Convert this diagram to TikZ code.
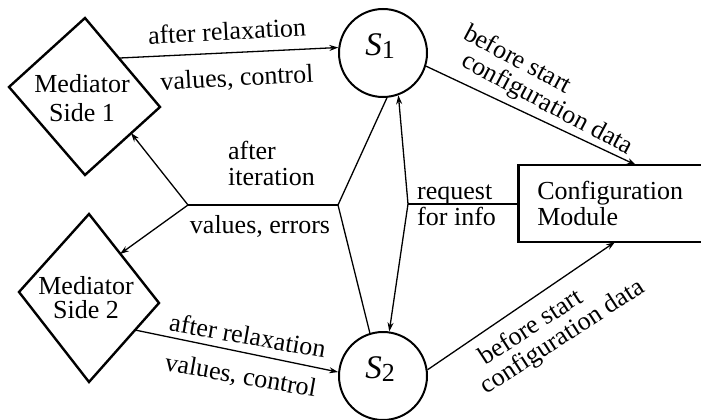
\documentclass[tikz,border=0pt]{standalone}
\usepackage{fontspec}
\setmainfont{Liberation Serif}
\usetikzlibrary{arrows.meta}
\begin{document}
\begin{tikzpicture}[x=1pt,y=-1pt,
  every node/.style={font=\fontsize{26}{26}\selectfont, inner sep=0pt},
  conn/.style={line width=1.3pt},
  tip/.tip={Stealth[length=9pt,width=6pt]},
  arr/.style={conn,-tip},
  mediator/.style={line width=2.4pt, line join=miter},
  proc/.style={circle, draw, line width=2pt, minimum size=88pt},
  module/.style={draw, line width=2.6pt, minimum height=77pt,
    text width=174pt, inner xsep=19pt, align=left, anchor=west},
  lbl/.style={align=left}]

\fill[white] (0,0) rectangle (701,420);
\clip (0,0) rectangle (701,420);

% mediator diamonds
\coordinate (m1t) at (85,18);  \coordinate (m1r) at (160,107);
\coordinate (m1b) at (85,175); \coordinate (m1l) at (9,87);
\draw[mediator] (m1t) -- (m1r) -- (m1b) -- (m1l) -- cycle;
\node[align=center, font=\fontsize{26}{29}\selectfont] (med1) at (82,98) {Mediator\\Side 1};

\coordinate (m2t) at (89,214);  \coordinate (m2r) at (159,303);
\coordinate (m2b) at (89,382);  \coordinate (m2l) at (19,292);
\draw[mediator] (m2t) -- (m2r) -- (m2b) -- (m2l) -- cycle;
\node[align=center, font=\fontsize{26}{24}\selectfont] (med2) at (86,298) {Mediator\\Side 2};

% connection points on the diamond edges
\coordinate (m1out) at (120,58);
\coordinate (m1in)  at (131,133);
\coordinate (m2in)  at (120,254);
\coordinate (m2out) at (135,330);

% solver circles
\node[proc] (s1) at (383,53) {};
\node (s1txt) at (380,46) {{\fontsize{33}{33}\selectfont\itshape S}\raisebox{-3pt}{1}};
\node[proc] (s2) at (383,376) {};
\node (s2txt) at (380,369) {{\fontsize{33}{33}\selectfont\itshape S}\raisebox{-3pt}{2}};

% configuration module
\node[module] (cm) at (517,203.5) {Configuration\\Module};
\coordinate (cmtop) at (636,165);
\coordinate (cmbot) at (615,242);

% branch points
\coordinate (a) at (188,205);
\coordinate (b) at (338,205);
\coordinate (c) at (408,204);

% connectors
\draw[arr] (m1out) -- (s1.173);
\draw[arr] (m2out) -- (s2.175);
\draw[conn] (b) -- (a);
\draw[arr] (a) -- (m1in);
\draw[arr] (a) -- (m2in);
\draw[conn] (s1.275) -- (b) -- (s2.107);
\draw[arr] (c) -- (s1.290);
\draw[arr] (c) -- (s2.82);
\draw[conn] (c) -- (c -| cm.west);
\draw[arr] (s1.-17) -- (cmtop);
\draw[arr] (s2.8) -- (cmbot);

% labels
\node[rotate=3] (l1) at (227,31) {after relaxation};
\node[rotate=3] (l2) at (237,79) {values, control};
\node[lbl, anchor=west] (l3) at (228,163) {after\\iteration};
\node (l4) at (260,226) {values, errors};
\node[lbl, anchor=west] (l5) at (417,205) {request\\for info};
\node[lbl, rotate=-28, font=\fontsize{26}{25}\selectfont] (l6) at (548,91)
  {before start\\\hspace*{11pt}configuration data};
\node[lbl, rotate=33, font=\fontsize{26}{25}\selectfont] (l8) at (556,327)
  {\hspace*{15pt}before start\\configuration data};
\node[align=center, rotate=-10, font=\fontsize{26}{40}\selectfont] (l10) at (244,357)
  {after relaxation\\values, control};
\end{tikzpicture}
\end{document}
